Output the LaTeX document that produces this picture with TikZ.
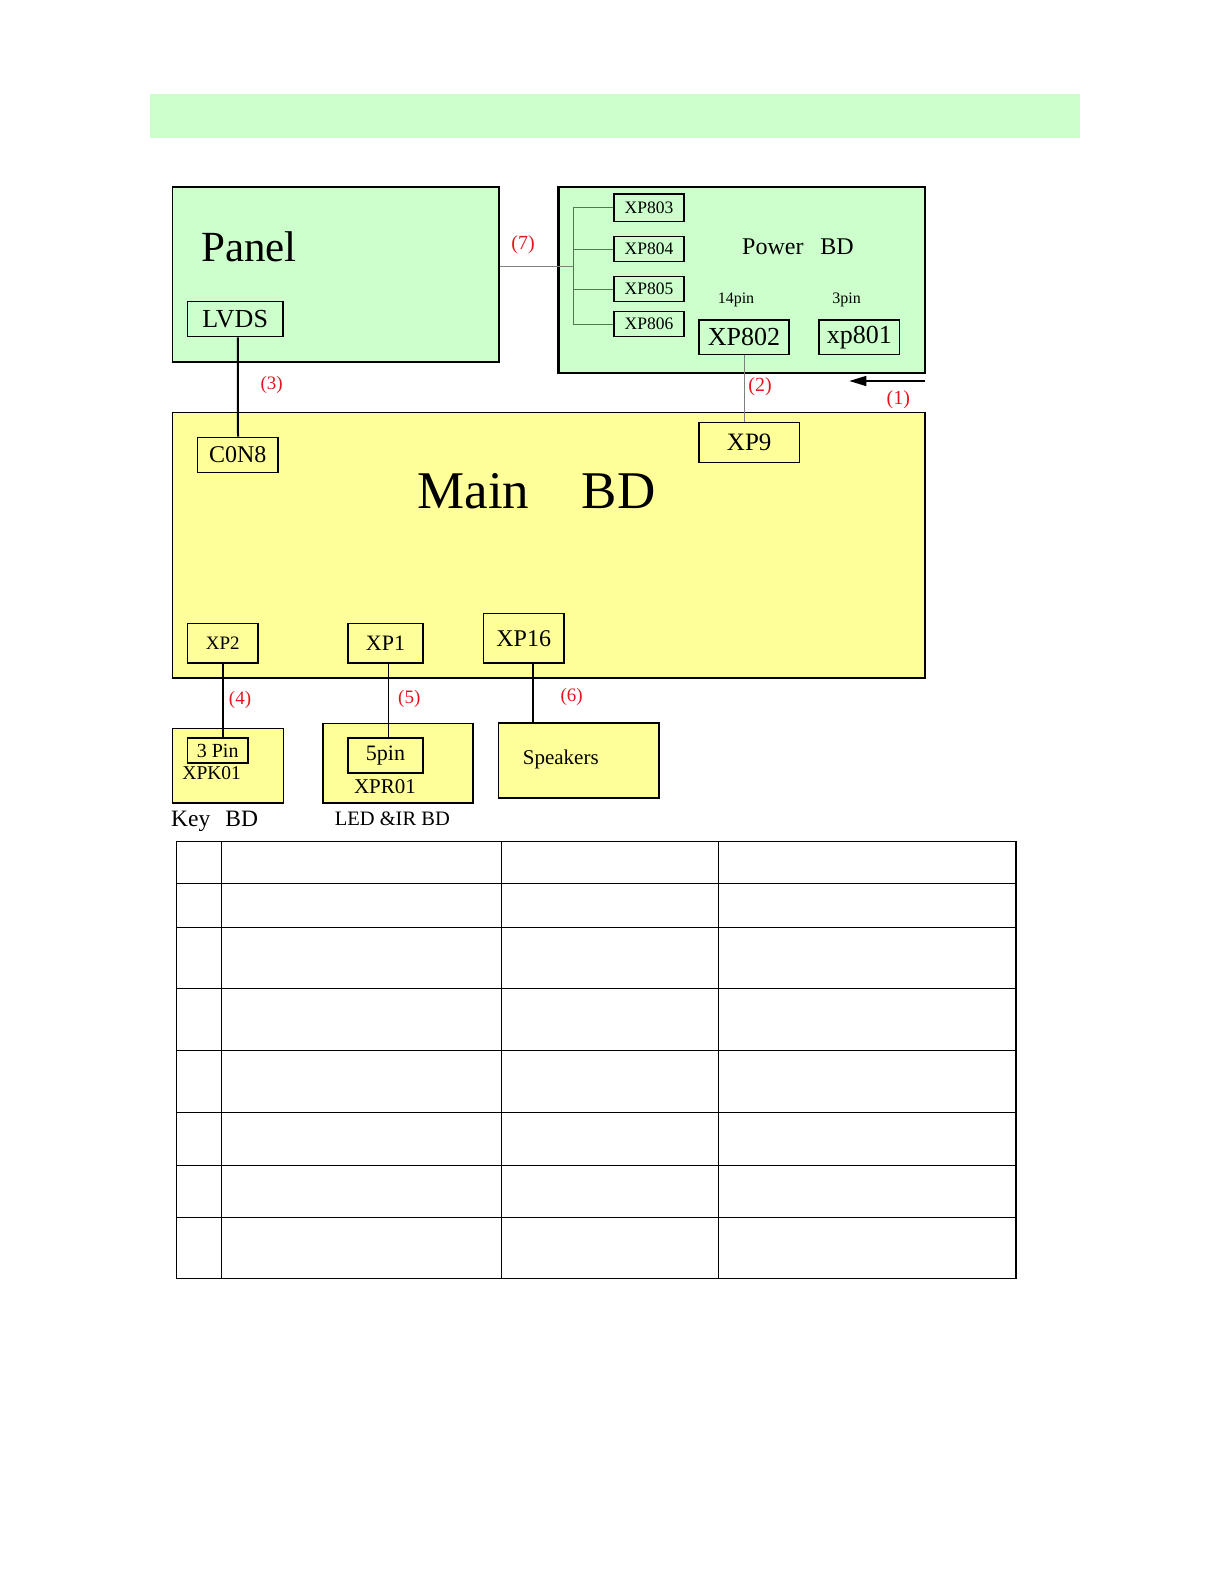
\documentclass[tikz,border=0pt]{standalone}
\usepackage{fontspec}
\setmainfont{Liberation Serif}
\usetikzlibrary{arrows.meta}
\definecolor{gfill}{HTML}{CCFFCC}
\definecolor{yfill}{HTML}{FFFF99}
\definecolor{lblred}{RGB}{230,20,30}
\definecolor{busgreen}{HTML}{4F7A4F}
\newcommand\fsz[1]{\fontsize{#1}{#1}\selectfont}
\tikzset{
  board/.style={draw, line width=1.5pt, anchor=north west, inner sep=0pt},
  gboard/.style={board, fill=gfill},
  yboard/.style={board, fill=yfill},
  conbox/.style={draw, line width=1.4pt, anchor=north west, inner sep=0pt},
  txt/.style={inner sep=0pt},
  lbl/.style={inner sep=0pt, text=lblred, font=\fsz{19}},
  thickwire/.style={line width=2pt},
  thinwire/.style={line width=0.9pt},
  graywire/.style={line width=1pt, draw=gray},
  buswire/.style={line width=0.9pt, draw=busgreen},
  grid/.style={line width=1.5pt}
}
\begin{document}
\begin{tikzpicture}[x=1pt,y=-1pt]
\useasboundingbox (0,0) rectangle (1224,1584);
% header band
\fill[gfill] (150,94) rectangle (1080,138.3);

% Panel
\node[gboard, minimum width=326.6pt, minimum height=175pt] (panel) at (171.7,186) {};
\node[txt, anchor=base west, font=\fsz{43}] (paneltxt) at (201,261.7) {Panel};
\node[conbox, minimum width=95.6pt, minimum height=35pt, font=\fsz{26}] (lvds) at (186.7,301) {LVDS};

% Power board
\node[gboard, line width=2.2pt, minimum width=366.7pt, minimum height=185.7pt] (power) at (557.3,186) {};
\node[conbox, minimum width=70pt, minimum height=27.7pt, font=\fsz{17.5}] (xp803) at (613.3,193.3) {XP803};
\node[conbox, minimum width=70pt, minimum height=25pt, font=\fsz{17.5}] (xp804) at (613.3,236) {XP804};
\node[conbox, minimum width=70pt, minimum height=25pt, font=\fsz{17.5}] (xp805) at (613.3,276) {XP805};
\node[conbox, minimum width=70pt, minimum height=25pt, font=\fsz{17.5}] (xp806) at (613.3,311) {XP806};
\node[txt, font=\fsz{24}] (powertxt) at (798,246.7) {Power\hspace{17pt}BD};
\node[txt, anchor=base, font=\fsz{16}] (pin14) at (736,303) {14pin};
\node[txt, anchor=base, font=\fsz{16}] (pin3t) at (846.7,303) {3pin};
\node[conbox, minimum width=90pt, minimum height=34.7pt, font=\fsz{26}] (xp802) at (698.3,319.3) {XP802};
\node[conbox, minimum width=80.7pt, minimum height=34.7pt, font=\fsz{26}] (xp801) at (818.3,319.3) {xp801};

% bus inside power board
\coordinate (bustop) at (573.3,207.2);
\coordinate (busbot) at (573.3,323.5);
\coordinate (busmid) at (573.3,266.7);
\draw[buswire] (bustop) -- (busbot);
\draw[buswire] (bustop |- xp803.west) -- (xp803.west);
\draw[buswire] (bustop |- xp804.west) -- (xp804.west);
\draw[buswire] (bustop |- xp805.west) -- (xp805.west);
\draw[buswire] (bustop |- xp806.west) -- (xp806.west);
\draw[graywire] (panel.east |- busmid) -- (busmid);
\node[lbl, font=\fsz{20}] (l7) at (523,245) {(7)};

% Main board
\node[yboard, minimum width=752.3pt, minimum height=265.6pt] (main) at (171.7,411.7) {};
\node[txt, anchor=base west, font=\fsz{53}] (maintxt) at (417.3,508.3) {Main};
\node[txt, anchor=base west, font=\fsz{53}] (bdtxt) at (581.7,508.3) {BD};
\node[conbox, minimum width=100.4pt, minimum height=40.3pt, font=\fsz{25}] (xp9) at (698.3,421.7) {XP9};
\node[conbox, minimum width=80.6pt, minimum height=35pt, font=\fsz{24}] (con8) at (196.7,436.7) {C0N8};
\node[conbox, minimum width=70.6pt, minimum height=39.6pt, font=\fsz{19}] (xp2) at (186.7,622.7) {XP2};
\node[conbox, minimum width=75pt, minimum height=39.6pt, font=\fsz{22}] (xp1) at (347.3,622.7) {XP1};
\node[conbox, minimum width=80.6pt, minimum height=49.6pt, font=\fsz{24}] (xp16) at (482.7,612.7) {XP16};

% connections main <-> power / panel
\draw[graywire] (xp802.south) -- (xp802.south |- xp9.north);
\node[lbl, font=\fsz{20}] (l2) at (760,386.7) {(2)};
\coordinate (arrstart) at (925,381);
\coordinate (arrend) at (849.3,381);
\draw[line width=1.4pt, -{Triangle[length=17pt,width=10pt]}] (arrstart) -- (arrend);
\node[lbl, font=\fsz{20}] (l1) at (898.3,400) {(1)};
\draw[thickwire] ([xshift=2.7pt]lvds.south) -- ([xshift=0.3pt]con8.north);
\node[lbl] (l3) at (271.7,385) {(3)};

% Key board
\node[yboard, minimum width=111pt, minimum height=74.6pt] (key) at (171.7,727.7) {};
\node[conbox, minimum width=60.6pt, minimum height=25pt, font=\fsz{20}] (pin3) at (186.7,737.3) {3 Pin};
\node[txt, font=\fsz{19.5}] (xpk01) at (211.7,773.3) {XPK01};
\node[txt, anchor=base west, font=\fsz{23.5}] (keytxt) at (171,826) {Key\hspace{15pt}BD};
\draw[thickwire] (xp2.south) -- (xp2.south |- pin3.north);
\node[lbl] (l4) at (240,700) {(4)};

% LED board
\node[yboard, minimum width=150pt, minimum height=79.6pt] (led) at (322.3,722.7) {};
\node[conbox, minimum width=75pt, minimum height=35pt, font=\fsz{22}] (pin5) at (347.3,737.3) {5pin};
\node[txt, font=\fsz{21}] (xpr01) at (385,786.7) {XPR01};
\node[txt, font=\fsz{20.5}] (ledtxt) at (392.3,819) {LED \&IR BD};
\draw[thinwire] ([xshift=2.9pt]xp1.south) -- ([xshift=2.9pt]xp1.south |- pin5.north);
\node[lbl] (l5) at (409.3,699.3) {(5)};

% Speakers
\node[yboard, minimum width=160.6pt, minimum height=75pt] (spk) at (497.7,722.3) {};
\node[txt, anchor=west, font=\fsz{21}] (spktxt) at (522.7,759.3) {Speakers};
\draw[thickwire] ([xshift=9.7pt]xp16.south) -- ([xshift=9.7pt]xp16.south |- spk.north);
\node[lbl] (l6) at (571.7,696.7) {(6)};

% table
\draw[grid] (176.7,841.7) rectangle (1016,1278.3);
\foreach \xx in {221.7,501.7,718.3} \draw[grid] (\xx,841.7) -- (\xx,1278.3);
\foreach \yy in {883.3,927.3,988.3,1050.3,1112.3,1165.3,1217.3} \draw[grid] (176.7,\yy) -- (1016,\yy);
\end{tikzpicture}
\end{document}
